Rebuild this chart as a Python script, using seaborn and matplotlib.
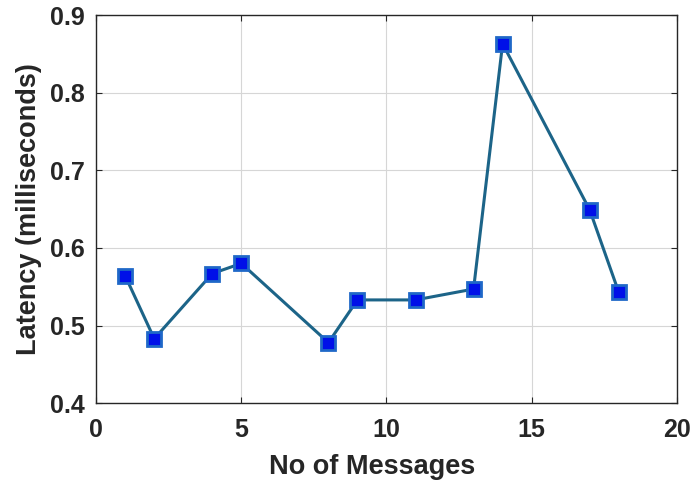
import matplotlib
matplotlib.use("Agg")
import matplotlib.pyplot as plt
import seaborn as sns
import pandas as pd

# Latency measured for different message counts
messages = [1, 2, 4, 5, 8, 9, 11, 13, 14, 17, 18]
latency_ms = [0.564, 0.483, 0.567, 0.580, 0.478, 0.533, 0.533, 0.547, 0.863, 0.649, 0.543]

x_ticks = [0, 5, 10, 15, 20]
y_ticks = [0.4, 0.5, 0.6, 0.7, 0.8, 0.9]

sns.set_theme(style="whitegrid")
plt.rcParams["font.family"] = ["Liberation Sans", "DejaVu Sans"]

df = pd.DataFrame({"messages": messages, "latency": latency_ms})

fig = plt.figure(figsize=(6.92, 4.84), dpi=100)
ax = fig.add_axes([0.139, 0.167, 0.839, 0.802])

sns.lineplot(
    data=df, x="messages", y="latency", ax=ax,
    color="#1c6488", linewidth=2.2,
    marker="s", markersize=10, markerfacecolor="#0010e8",
    markeredgecolor="#1f68c8", markeredgewidth=2.0,
)

ax.set_xlim(0, 20)
ax.set_ylim(0.4, 0.9)
ax.set_xticks(x_ticks)
ax.set_yticks(y_ticks)
ax.set_xticklabels([str(t) for t in x_ticks])
ax.set_yticklabels([f"{t:.1f}" for t in y_ticks])

ax.grid(True, color="#d6d6d6", linewidth=0.8)
for side in ["left", "right", "top", "bottom"]:
    ax.spines[side].set_visible(True)
    ax.spines[side].set_color("#262626")
    ax.spines[side].set_linewidth(1.0)

ax.tick_params(axis="both", which="both", direction="in", length=4,
               width=0.8, color="#262626", top=True, right=True,
               bottom=True, left=True, labelsize=18,
               labelcolor="#262626")
ax.tick_params(axis="x", pad=11)
ax.tick_params(axis="y", pad=8)
for lbl in ax.get_xticklabels() + ax.get_yticklabels():
    lbl.set_fontweight("bold")

ax.set_xlabel("No of Messages", fontsize=19.5, fontweight="bold",
              color="#262626")
ax.xaxis.set_label_coords(0.475, -0.13)
ax.set_ylabel("Latency (milliseconds)", fontsize=19.5, fontweight="bold",
              color="#262626", labelpad=6)

fig.savefig("out.png", dpi=100)
